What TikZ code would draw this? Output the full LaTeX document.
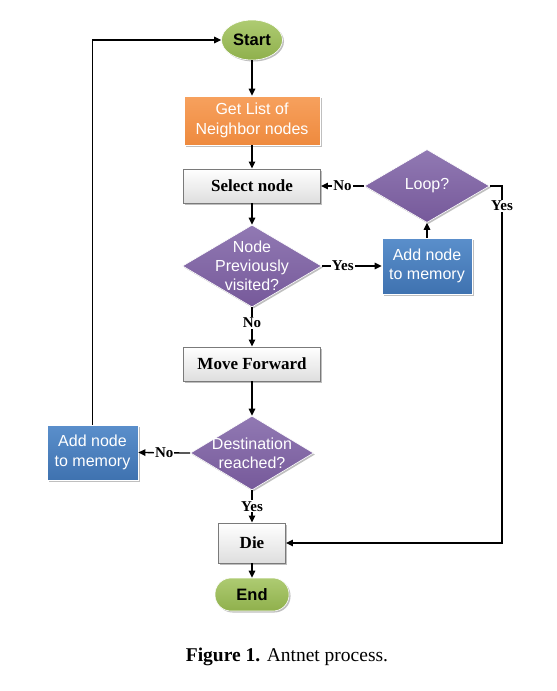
\documentclass[tikz,border=0pt]{standalone}
\usepackage{fontspec}
\setmainfont{Liberation Serif}
\newfontfamily\arialf{Liberation Sans}
\usetikzlibrary{shapes.geometric,arrows.meta,shadows,calc}
\definecolor{grnT}{HTML}{AECB72}
\definecolor{grnB}{HTML}{8FB04C}
\definecolor{orgT}{HTML}{F7A15E}
\definecolor{orgB}{HTML}{EE8A3E}
\definecolor{purT}{HTML}{9179B3}
\definecolor{purB}{HTML}{76599A}
\definecolor{bluT}{HTML}{5A8FCB}
\definecolor{bluB}{HTML}{3F72B0}
\definecolor{grayB}{HTML}{DEDEDE}
\definecolor{brd}{HTML}{7A7A7A}
\begin{document}
\begin{tikzpicture}[x=1pt,y=-1pt,
  shad/.style={drop shadow={shadow xshift=1.5pt,shadow yshift=-1.5pt,opacity=0.25,fill=black}},
  term/.style={shad,top color=grnT,bottom color=grnB,draw=white,line width=0.6pt,inner sep=0pt,
    font=\arialf\bfseries\fontsize{16.5}{18}\selectfont,text=black},
  orgbox/.style={shad,rectangle,top color=orgT,bottom color=orgB,draw=white,line width=0.6pt,inner sep=0pt,
    font=\arialf\fontsize{16}{19.5}\selectfont,text=white,align=center},
  grybox/.style={shad,rectangle,top color=white,bottom color=grayB,draw=brd,line width=0.9pt,inner sep=0pt,
    font=\bfseries\fontsize{17}{19}\selectfont,text=black},
  blubox/.style={shad,rectangle,top color=bluT,bottom color=bluB,draw=white,line width=0.6pt,inner sep=0pt,
    font=\arialf\fontsize{16}{19.5}\selectfont,text=white,align=center},
  decis/.style={shad,diamond,top color=purT,bottom color=purB,draw=white,line width=0.6pt,inner sep=0pt},
  dtext/.style={font=\arialf\fontsize{16}{19}\selectfont,text=white,align=center},
  arr/.style={line width=1.3pt,-{Triangle[length=7pt,width=6.5pt]}},
  lbl/.style={fill=white,inner sep=1pt,font=\bfseries\fontsize{15}{16}\selectfont,text=black}
]
\useasboundingbox[fill=white] (0,0) rectangle (557,691);

\node[term,ellipse,minimum width=61pt,minimum height=40pt] (start) at (252,40) {Start};
\node[orgbox,minimum width=136pt,minimum height=49pt] (get) at (252,120.5) {Get List of\\Neighbor nodes};
\node[grybox,minimum width=137pt,minimum height=34pt] (sel) at (252,186) {Select node};
\node[decis,minimum width=125pt,minimum height=73pt,label={[dtext]center:Loop?}] (loop) at (427,186) {};
\node[decis,minimum width=139pt,minimum height=82pt,label={[dtext]center:Node\\Previously\\visited?}] (prev) at (252,266) {};
\node[blubox,minimum width=90pt,minimum height=56pt] (addr) at (427,266) {Add node\\to memory};
\node[grybox,minimum width=137pt,minimum height=34pt] (move) at (252,364) {Move Forward};
\node[decis,minimum width=123pt,minimum height=74pt,label={[dtext]center:Destination\\reached?}] (dest) at (252,453) {};
\node[blubox,minimum width=91pt,minimum height=55pt] (addl) at (92.5,452.5) {Add node\\to memory};
\node[grybox,minimum width=67pt,minimum height=40pt] (die) at (252,543) {Die};
\node[term,rectangle,rounded corners=16pt,minimum width=74pt,minimum height=33pt] (end) at (252,594.5) {End};

\coordinate (c1) at (502,186);
\coordinate (c2) at (502,543);

\draw[arr] (start) -- (get);
\draw[arr] (get) -- (sel);
\draw[arr] (sel) -- (prev);
\draw[arr] (prev.east) -- node[lbl,pos=0.35]{Yes} (addr.west);
\draw[arr] (addr) -- (loop.south);
\draw[arr] (loop.west) -- node[lbl]{No} (sel.east);
\draw[arr] (loop.east) -- (c1) -- node[lbl,pos=0.056]{Yes} (c2) -- (die.east);
\draw[arr] (prev.south) -- node[lbl,pos=0.4]{No} (move.north);
\draw[arr] (move) -- (dest.north);
\draw[arr] (dest.west) -- node[lbl]{No} (addl.east);
\draw[arr] (addl.north) |- (start.west);
\draw[arr] (dest.south) -- node[lbl]{Yes} (die.north);
\draw[arr] (die) -- (end);

\node[font=\fontsize{19.5}{22}\selectfont] (cap) at (287,657) {\textbf{Figure 1.} Antnet process.};
\end{tikzpicture}
\end{document}
